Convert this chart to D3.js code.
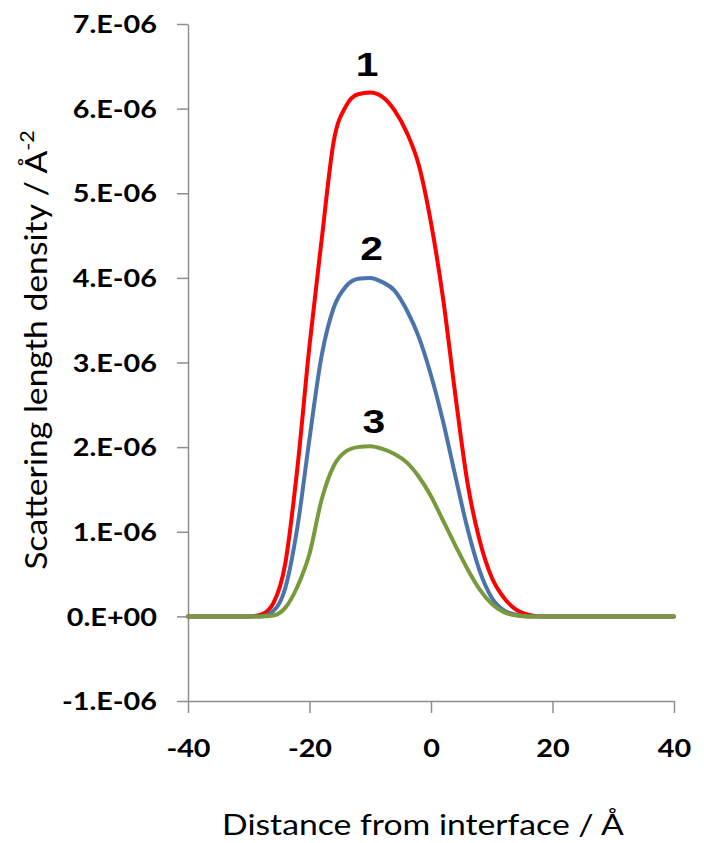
<!DOCTYPE html>
<html>
<head>
<meta charset="utf-8">
<script src="https://cdn.jsdelivr.net/npm/d3@7"></script>
<style>
  html, body { margin: 0; padding: 0; background: #ffffff; }
  svg { display: block; }
</style>
</head>
<body>
<svg id="chart" width="704" height="843"></svg>
<script>
// ---------------- data ----------------
const distance = [-40,-38,-36,-34,-32,-30,-28,-26,-24,-22,-20,-18,-16,-14,-12,-10,-8,-6,-4,-2,
                  0,2,4,6,8,10,12,14,16,18,20,22,24,26,28,30,32,34,36,38,40];

// scattering length density, in units of 1e-6 Å^-2
const sld1 = [0,0,0,0,0,0,0.02,0.15,0.62,1.75,3.2,4.45,5.62,6.03,6.17,6.19,6.14,5.98,5.72,5.33,
              4.65,3.75,2.62,1.58,0.9,0.46,0.22,0.08,0.02,0,0,0,0,0,0,0,0,0,0,0,0];
const sld2 = [0,0,0,0,0,0,0,0.06,0.33,1.05,2.1,3.08,3.65,3.9,3.99,4.0,3.95,3.85,3.62,3.3,
              2.85,2.3,1.66,1.04,0.54,0.22,0.07,0.02,0,0,0,0,0,0,0,0,0,0,0,0,0];
const sld3 = [0,0,0,0,0,0,0,0.01,0.1,0.35,0.74,1.38,1.78,1.95,2.0,2.01,1.98,1.92,1.82,1.65,
              1.42,1.13,0.84,0.56,0.32,0.15,0.05,0.01,0,0,0,0,0,0,0,0,0,0,0,0,0];

const seriesNames  = ["1", "2", "3"];
const seriesColors = ["#FF0000", "#4A74AA", "#789A3C"];
// curve label anchor points (data coordinates)
const labelX = [-10.5, -9.8, -9.4];
const labelY = [6.38, 4.21, 2.17];

const xTicks = [-40, -20, 0, 20, 40];
const yTicks = [-1, 0, 1, 2, 3, 4, 5, 6, 7];   // ×1e-6

// ---------------- chart ----------------
const svg = d3.select("#chart");
const SX = 1.2; // horizontal text stretch of the original picture

const x = d3.scaleLinear().domain([-40, 40]).range([188, 674]);
const y = d3.scaleLinear().domain([-1e-6, 7e-6]).range([701, 24]);

const fmtY = v => {
  const n = Math.round(v * 1e6);
  return n === 0 ? "0.E+00" : n + ".E-06";
};

const axisColor = "#8E8E8E";

// y axis
const gy = svg.append("g")
  .attr("transform", "translate(188,0)")
  .call(d3.axisLeft(y).tickValues(yTicks.map(v => v * 1e-6)).tickFormat(fmtY)
        .tickSize(11).tickSizeOuter(0));
gy.attr("font-family", null).attr("font-size", null);
gy.selectAll("path, line").attr("stroke", axisColor).attr("stroke-width", 1.5);
gy.selectAll("text")
  .attr("x", null).attr("dy", "0.36em")
  .attr("transform", `translate(-31,0) scale(${SX},1)`)
  .attr("font-family", "Lato").attr("font-weight", "bold").attr("font-size", 24)
  .attr("fill", "#000");

// x axis
const gx = svg.append("g")
  .attr("transform", "translate(0,701)")
  .call(d3.axisBottom(x).tickValues(xTicks).tickFormat(d => String(d))
        .tickSize(12).tickSizeOuter(0));
gx.attr("font-family", null).attr("font-size", null);
gx.selectAll("path, line").attr("stroke", axisColor).attr("stroke-width", 1.5);
gx.selectAll("text")
  .attr("y", null).attr("dy", null)
  .attr("transform", `translate(0,56) scale(${SX},1)`)
  .attr("font-family", "Lato").attr("font-weight", "bold").attr("font-size", 24)
  .attr("fill", "#000");

// lines
const line = d3.line()
  .x((d, i) => x(distance[i]))
  .y(d => y(d * 1e-6))
  .curve(d3.curveMonotoneX);

[sld1, sld2, sld3].forEach((s, k) => {
  svg.append("path")
    .datum(s)
    .attr("d", line)
    .attr("fill", "none")
    .attr("stroke", seriesColors[k])
    .attr("stroke-width", 4)
    .attr("stroke-linejoin", "round")
    .attr("stroke-linecap", "round");
});

// curve labels
seriesNames.forEach((name, k) => {
  svg.append("text")
    .text(name)
    .attr("text-anchor", "middle")
    .attr("font-family", "Liberation Sans, Arial, sans-serif")
    .attr("font-weight", "bold")
    .attr("font-size", 34)
    .attr("fill", "#000")
    .attr("transform", `translate(${x(labelX[k])},${y(labelY[k] * 1e-6)}) scale(${SX},1)`);
});

// x title
const xt = svg.append("text")
  .text("Distance from interface / Å")
  .attr("text-anchor", "middle")
  .attr("font-family", "Lato")
  .attr("font-size", 28)
  .attr("fill", "#000");
const xw = xt.node().getComputedTextLength() || 402;
xt.attr("transform", `translate(423,835) scale(${402 / xw},1)`);

// y title
const yt = svg.append("text")
  .attr("text-anchor", "middle")
  .attr("font-family", "Lato")
  .attr("font-size", 25)
  .attr("fill", "#000");
yt.append("tspan").text("Scattering length density / Å");
yt.append("tspan").text("-2").attr("font-size", 16).attr("dy", -11);
const yl = yt.node().getBBox().width || 440;
yt.attr("transform", `translate(47,350) rotate(-90) scale(${440 / yl},${SX})`);
</script>
</body>
</html>
